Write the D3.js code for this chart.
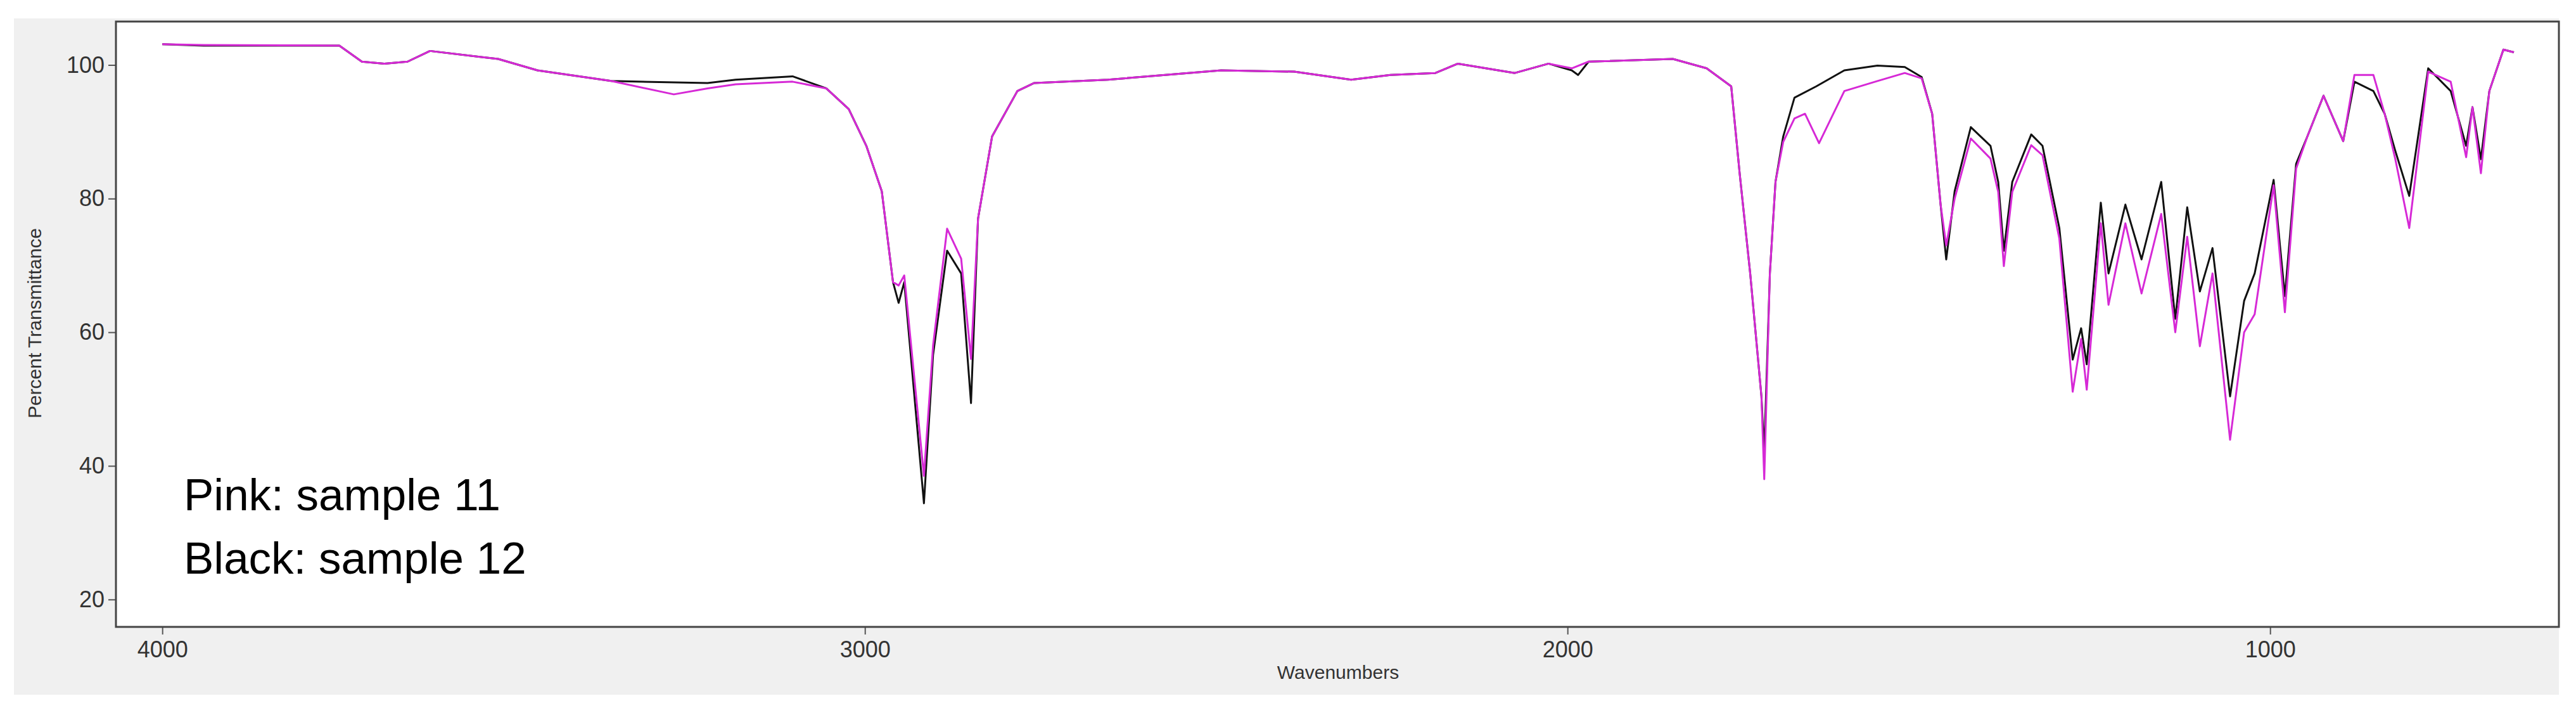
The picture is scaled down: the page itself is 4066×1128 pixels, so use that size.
<!DOCTYPE html>
<html>
<head>
<meta charset="utf-8">
<script src="https://cdn.jsdelivr.net/npm/d3@7"></script>
<style>
  body { margin: 0; background: #fff; }
  text { font-family: "Liberation Sans", Arial, sans-serif; }
</style>
</head>
<body>
<svg id="chart" width="4066" height="1128"></svg>
<script>
const xTicks = [4000, 3000, 2000, 1000];
const yTicks = [20, 40, 60, 80, 100];
const legendLines = ["Pink: sample 11", "Black: sample 12"];

// sample 12 (black)
const blackWn = [4000, 3941, 3748, 3716, 3684, 3651, 3619, 3522, 3466, 3361, 3224, 3184, 3103, 3055, 3023, 2998, 2976, 2960, 2952, 2944, 2916, 2903, 2883, 2863, 2849, 2839, 2819, 2783, 2759, 2654, 2493, 2389, 2308, 2252, 2188, 2156, 2075, 2027, 1994, 1985, 1970, 1850, 1802, 1767, 1755, 1740, 1724, 1720, 1712, 1704, 1693, 1677, 1646, 1606, 1559, 1520, 1496, 1481, 1469, 1461, 1449, 1426, 1398, 1387, 1379, 1367, 1340, 1324, 1300, 1281, 1269, 1261, 1241, 1230, 1206, 1183, 1155, 1135, 1118, 1100, 1082, 1057, 1037, 1022, 995, 979, 963, 947, 924, 896, 880, 853, 837, 822, 802, 775, 743, 721, 712, 700, 688, 668, 653];
const blackT = [103.1, 102.9, 102.9, 100.5, 100.2, 100.5, 102.1, 100.9, 99.2, 97.6, 97.3, 97.8, 98.3, 96.5, 93.4, 87.9, 81.1, 67.5, 64.4, 67.5, 34.4, 56.6, 72.2, 68.8, 49.4, 77.0, 89.3, 96.1, 97.3, 97.8, 99.2, 99.0, 97.8, 98.5, 98.8, 100.2, 98.8, 100.2, 99.2, 98.5, 100.5, 100.9, 99.5, 96.8, 83.8, 68.8, 50.4, 42.0, 68.8, 82.5, 89.3, 95.1, 96.8, 99.2, 99.9, 99.7, 98.2, 92.7, 79.1, 70.9, 81.1, 90.7, 87.9, 82.5, 72.2, 82.5, 89.6, 87.9, 75.6, 55.9, 60.6, 55.2, 79.4, 68.8, 79.1, 70.9, 82.5, 62.0, 78.7, 66.1, 72.6, 50.4, 64.7, 68.8, 82.8, 65.4, 85.2, 89.3, 95.4, 88.6, 97.5, 96.1, 92.7, 87.2, 80.4, 99.5, 96.1, 87.9, 93.7, 85.9, 96.1, 102.3, 101.9];

// sample 11 (pink)
const pinkWn = [4000, 3941, 3748, 3716, 3684, 3651, 3619, 3522, 3466, 3361, 3272, 3224, 3184, 3103, 3055, 3023, 2998, 2976, 2960, 2952, 2944, 2916, 2903, 2883, 2863, 2849, 2839, 2819, 2783, 2759, 2654, 2493, 2389, 2308, 2252, 2188, 2156, 2075, 2027, 1994, 1970, 1850, 1802, 1767, 1755, 1740, 1724, 1720, 1712, 1704, 1693, 1677, 1662, 1642, 1606, 1559, 1520, 1496, 1481, 1469, 1461, 1449, 1426, 1398, 1387, 1379, 1367, 1340, 1324, 1300, 1281, 1269, 1261, 1241, 1230, 1206, 1183, 1155, 1135, 1118, 1100, 1082, 1057, 1037, 1022, 995, 979, 963, 947, 924, 896, 880, 853, 837, 822, 802, 775, 743, 721, 712, 700, 688, 668, 653];
const pinkT = [103.1, 103.0, 102.9, 100.5, 100.2, 100.5, 102.1, 100.9, 99.2, 97.6, 95.6, 96.5, 97.1, 97.5, 96.5, 93.4, 87.9, 81.1, 67.5, 67.0, 68.5, 38.5, 58.0, 75.5, 71.0, 56.0, 77.0, 89.3, 96.1, 97.3, 97.8, 99.2, 99.0, 97.8, 98.5, 98.8, 100.2, 98.8, 100.2, 99.5, 100.5, 100.9, 99.5, 96.8, 83.8, 68.8, 50.4, 38.0, 68.8, 82.5, 88.5, 92.0, 92.7, 88.3, 96.1, 97.6, 98.8, 98.0, 92.7, 79.1, 73.0, 80.0, 89.0, 86.0, 81.0, 69.9, 81.0, 88.0, 86.5, 74.0, 51.1, 59.0, 51.4, 76.3, 64.1, 76.3, 65.8, 77.7, 60.0, 74.3, 57.9, 68.8, 43.9, 60.0, 62.7, 82.0, 63.0, 84.5, 89.3, 95.4, 88.6, 98.5, 98.5, 92.7, 86.0, 75.6, 99.0, 97.5, 86.2, 93.7, 83.8, 96.1, 102.3, 101.9];

const svg = d3.select("#chart");
const margin = { left: 183, top: 34, right: 27, bottom: 139 };
const width = 4066, height = 1128;
const chartWidth = width - margin.left - margin.right;
const chartHeight = height - margin.top - margin.bottom;

// grey window panel
svg.append("rect").attr("x", 22).attr("y", 29).attr("width", 4017).attr("height", 1067).attr("fill", "#f0f0f0");

const x = d3.scaleLinear().domain([4066, 589]).range([0, chartWidth]);
const y = d3.scaleLinear().domain([15.9, 106.5]).range([chartHeight, 0]);

const g = svg.append("g").attr("transform", `translate(${margin.left},${margin.top})`);

g.append("rect").attr("width", chartWidth).attr("height", chartHeight).attr("fill", "#fff");

const xAxis = d3.axisBottom(x).tickValues(xTicks).tickFormat(d3.format("d")).tickSize(12).tickPadding(10);
const yAxis = d3.axisLeft(y).tickValues(yTicks).tickFormat(d3.format("d")).tickSize(12).tickPadding(6);

const xAxisG = g.append("g").attr("transform", `translate(0,${chartHeight})`).call(xAxis);
const yAxisG = g.append("g").call(yAxis);
[xAxisG, yAxisG].forEach(a => {
  a.select(".domain").remove();
  a.selectAll("line").attr("stroke", "#555").attr("stroke-width", 2);
  a.selectAll("text").attr("font-size", 36).attr("fill", "#333")
    .attr("font-family", "'Liberation Sans Narrow', 'Liberation Sans', Arial, sans-serif");
});

g.append("text")
  .attr("transform", "rotate(-90)")
  .attr("x", -(510 - margin.top)).attr("y", -118)
  .attr("text-anchor", "middle").attr("font-size", 30).attr("fill", "#333")
  .text("Percent Transmittance");

g.append("text")
  .attr("x", 2112 - margin.left).attr("y", chartHeight + 82)
  .attr("text-anchor", "middle").attr("font-size", 30).attr("fill", "#333")
  .text("Wavenumbers");

const line = d3.line().x(d => x(d[0])).y(d => y(d[1]));

g.append("path")
  .attr("d", line(d3.zip(blackWn, blackT)))
  .attr("fill", "none").attr("stroke", "#111").attr("stroke-width", 3).attr("stroke-linejoin", "round");
g.append("path")
  .attr("d", line(d3.zip(pinkWn, pinkT)))
  .attr("fill", "none").attr("stroke", "#d629d6").attr("stroke-width", 3).attr("stroke-linejoin", "round");

g.append("rect").attr("width", chartWidth).attr("height", chartHeight)
  .attr("fill", "none").attr("stroke", "#444").attr("stroke-width", 3);

g.selectAll(".legend").data(legendLines).join("text")
  .attr("class", "legend")
  .attr("x", 290 - margin.left)
  .attr("y", (d, i) => 805 - margin.top + i * 100)
  .attr("font-size", 71).attr("fill", "#000")
  .text(d => d);
</script>
</body>
</html>
